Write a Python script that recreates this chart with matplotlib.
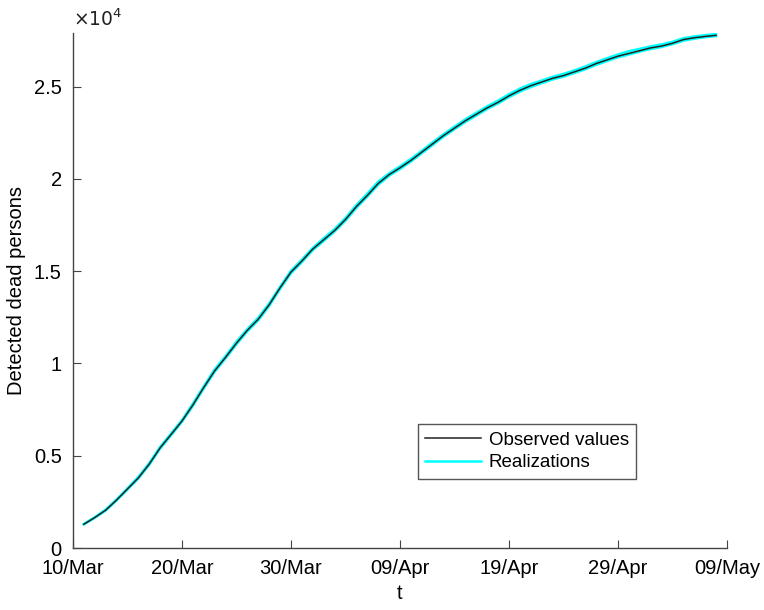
import numpy as np
import matplotlib.pyplot as plt
import matplotlib.dates as mdates
from matplotlib.lines import Line2D

plt.rcParams['font.family'] = ['Liberation Sans', 'DejaVu Sans']

# daily values, 11/Mar .. 08/May
days = np.arange(np.datetime64('2020-03-11'), np.datetime64('2020-05-09'))
observed = [1290, 1650, 2050, 2600, 3200, 3800, 4550, 5430, 6150, 6880,
            7750, 8700, 9600, 10330, 11100, 11800, 12400, 13180, 14100, 14950,
            15550, 16200, 16700, 17200, 17800, 18500, 19100, 19750, 20230, 20600,
            21000, 21450, 21900, 22350, 22750, 23150, 23500, 23850, 24150, 24500,
            24800, 25050, 25250, 25450, 25600, 25800, 26000, 26250, 26450, 26650,
            26800, 26950, 27100, 27200, 27350, 27550, 27650, 27720, 27780]
real_a = [1300, 1670, 2080, 2630, 3230, 3850, 4600, 5480, 6200, 6930,
          7820, 8760, 9680, 10400, 11180, 11860, 12480, 13250, 14150, 15020,
          15620, 16260, 16780, 17280, 17880, 18580, 19200, 19850, 20300, 20680,
          21080, 21520, 21980, 22420, 22830, 23230, 23580, 23930, 24240, 24590,
          24890, 25140, 25330, 25530, 25690, 25880, 26090, 26330, 26540, 26740,
          26920, 27050, 27180, 27290, 27430, 27620, 27720, 27790, 27850]
real_b = [1280, 1640, 2030, 2580, 3170, 3770, 4510, 5390, 6110, 6840,
          7700, 8650, 9550, 10280, 11040, 11740, 12340, 13120, 14040, 14890,
          15490, 16140, 16640, 17150, 17740, 18430, 19040, 19680, 20170, 20540,
          20940, 21390, 21840, 22290, 22690, 23090, 23440, 23790, 24090, 24430,
          24730, 24980, 25190, 25390, 25540, 25740, 25940, 26180, 26390, 26590,
          26740, 26900, 27040, 27150, 27300, 27490, 27600, 27680, 27740]

tick_dates = np.arange(np.datetime64('2020-03-10'), np.datetime64('2020-05-10'), 10)
y_ticks = [0, 5000, 10000, 15000, 20000, 25000]
y_labels = ['0', '0.5', '1', '1.5', '2', '2.5']

fig = plt.figure(figsize=(7.64, 6.10), dpi=100)
ax = fig.add_axes([0.0955, 0.1016, 0.856, 0.845])

for r in (real_a, real_b):
    ax.plot(days, r, color='#00FFFF', lw=1.8)
ax.plot(days, observed, color='#222222', lw=1.1, zorder=3)

ax.set_xlim(np.datetime64('2020-03-10'), np.datetime64('2020-05-09'))
ax.set_ylim(0, 27930)
ax.set_xticks(tick_dates)
ax.xaxis.set_major_formatter(mdates.DateFormatter('%d/%b'))
ax.set_yticks(y_ticks)
ax.set_yticklabels(y_labels)

for s in ('top', 'right'):
    ax.spines[s].set_visible(False)
for s in ('left', 'bottom'):
    ax.spines[s].set_color('#444444')
    ax.spines[s].set_linewidth(1.0)
ax.tick_params(direction='in', length=6, color='#444444', labelsize=14.5, pad=8)

ax.set_xlabel('t', fontsize=14.5, labelpad=4)
ax.set_ylabel('Detected dead persons', fontsize=14.5, labelpad=6)
ax.text(0.0, 1.005, r'$\times10^4$', transform=ax.transAxes, fontsize=13.5,
        ha='left', va='bottom', color='#222222')

handles = [Line2D([], [], color='#222222', lw=1.1),
           Line2D([], [], color='#00FFFF', lw=1.8)]
leg = ax.legend(handles, ['Observed values', 'Realizations'], loc='lower left',
                bbox_to_anchor=(0.527, 0.134), fontsize=13.5, fancybox=False,
                edgecolor='#555555', framealpha=1, handlelength=3.0,
                borderpad=0.4, labelspacing=0.3, handletextpad=0.4, borderaxespad=0)
leg.get_frame().set_linewidth(1.0)

fig.savefig('out.png', dpi=100)
